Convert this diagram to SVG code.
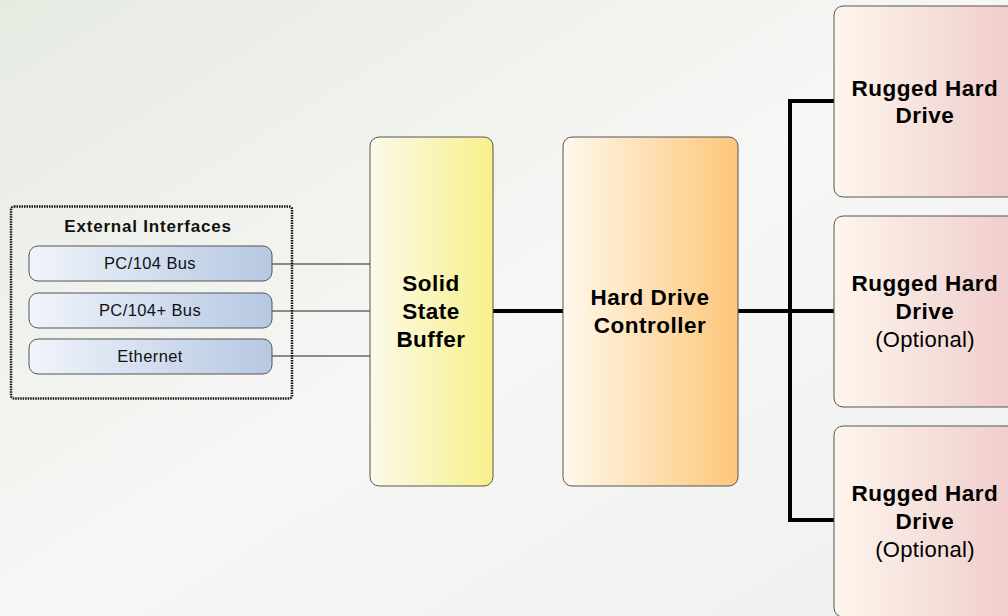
<svg xmlns="http://www.w3.org/2000/svg" width="1008" height="616" viewBox="0 0 1008 616">
<defs>
<linearGradient id="bg" x1="0" y1="0" x2="1" y2="1">
<stop offset="0" stop-color="#e6ebe2"/>
<stop offset="0.5" stop-color="#f7f7f5"/>
<stop offset="1" stop-color="#efefef"/>
</linearGradient>
<linearGradient id="gBlue" x1="0" y1="0" x2="1" y2="0">
<stop offset="0" stop-color="#f0f4fb"/>
<stop offset="1" stop-color="#b6c8e2"/>
</linearGradient>
<linearGradient id="gYellow" x1="0" y1="0" x2="1" y2="0">
<stop offset="0" stop-color="#fbfaea"/>
<stop offset="1" stop-color="#f8f08a"/>
</linearGradient>
<linearGradient id="gOrange" x1="0" y1="0" x2="1" y2="0">
<stop offset="0" stop-color="#fff8ec"/>
<stop offset="1" stop-color="#fdc679"/>
</linearGradient>
<linearGradient id="gPink" x1="0" y1="0" x2="1" y2="0">
<stop offset="0" stop-color="#fdf6ec"/>
<stop offset="1" stop-color="#efcaca"/>
</linearGradient>
</defs>
<style>
.box{stroke:#555;stroke-width:1}
.b{font-family:"Liberation Sans",Arial,sans-serif;font-weight:bold;font-size:22.5px;letter-spacing:0.5px;fill:#000;text-anchor:middle}
.n{font-family:"Liberation Sans",Arial,sans-serif;font-size:22px;letter-spacing:0.3px;fill:#000;text-anchor:middle}
.s{font-family:"Liberation Sans",Arial,sans-serif;font-size:16.5px;letter-spacing:0.4px;fill:#111;text-anchor:middle}
.t{font-family:"Liberation Sans",Arial,sans-serif;font-weight:bold;font-size:17px;letter-spacing:0.8px;fill:#111;text-anchor:middle}
.thin{stroke:#222;stroke-width:1;fill:none}
.thick{stroke:#000;stroke-width:4;fill:none}
</style>
<rect x="0" y="0" width="1008" height="616" fill="url(#bg)"/>
<g id="connectors">
<line class="thin" x1="272" y1="264" x2="370" y2="264"/>
<line class="thin" x1="272" y1="311" x2="370" y2="311"/>
<line class="thin" x1="272" y1="356" x2="370" y2="356"/>
<line class="thick" x1="493" y1="311" x2="563" y2="311"/>
<line class="thick" x1="738" y1="311" x2="835" y2="311"/>
<polyline class="thick" points="835,101 790,101 790,520 835,520"/>
</g>
<g id="external-interfaces">
<rect x="11" y="206.5" width="281" height="192" rx="3" fill="none" stroke="#111" stroke-width="2.5" stroke-dasharray="1.5,1"/>
<text class="t" x="148" y="232">External Interfaces</text>
</g>
<g id="pc104">
<rect class="box" x="29" y="246" width="243" height="35" rx="9" fill="url(#gBlue)"/>
<text class="s" x="150" y="269">PC/104 Bus</text>
</g>
<g id="pc104plus">
<rect class="box" x="29" y="293" width="243" height="35" rx="9" fill="url(#gBlue)"/>
<text class="s" x="150" y="316">PC/104+ Bus</text>
</g>
<g id="ethernet">
<rect class="box" x="29" y="339" width="243" height="35" rx="9" fill="url(#gBlue)"/>
<text class="s" x="150" y="362">Ethernet</text>
</g>
<g id="ssb">
<rect class="box" x="370" y="137" width="123" height="349" rx="9" fill="url(#gYellow)"/>
<text class="b" x="431" y="291">Solid</text>
<text class="b" x="431" y="319">State</text>
<text class="b" x="431" y="347">Buffer</text>
</g>
<g id="hdc">
<rect class="box" x="563" y="137" width="175" height="349" rx="9" fill="url(#gOrange)"/>
<text class="b" x="650" y="305">Hard Drive</text>
<text class="b" x="650" y="333">Controller</text>
</g>
<g id="rhd1">
<rect class="box" x="834" y="6" width="190" height="191" rx="9" fill="url(#gPink)"/>
<text class="b" x="925" y="96">Rugged Hard</text>
<text class="b" x="925" y="123">Drive</text>
</g>
<g id="rhd2">
<rect class="box" x="834" y="216" width="190" height="191" rx="9" fill="url(#gPink)"/>
<text class="b" x="925" y="291">Rugged Hard</text>
<text class="b" x="925" y="319">Drive</text>
<text class="n" x="925" y="347">(Optional)</text>
</g>
<g id="rhd3">
<rect class="box" x="834" y="426" width="190" height="191" rx="9" fill="url(#gPink)"/>
<text class="b" x="925" y="501">Rugged Hard</text>
<text class="b" x="925" y="529">Drive</text>
<text class="n" x="925" y="557">(Optional)</text>
</g>
</svg>
